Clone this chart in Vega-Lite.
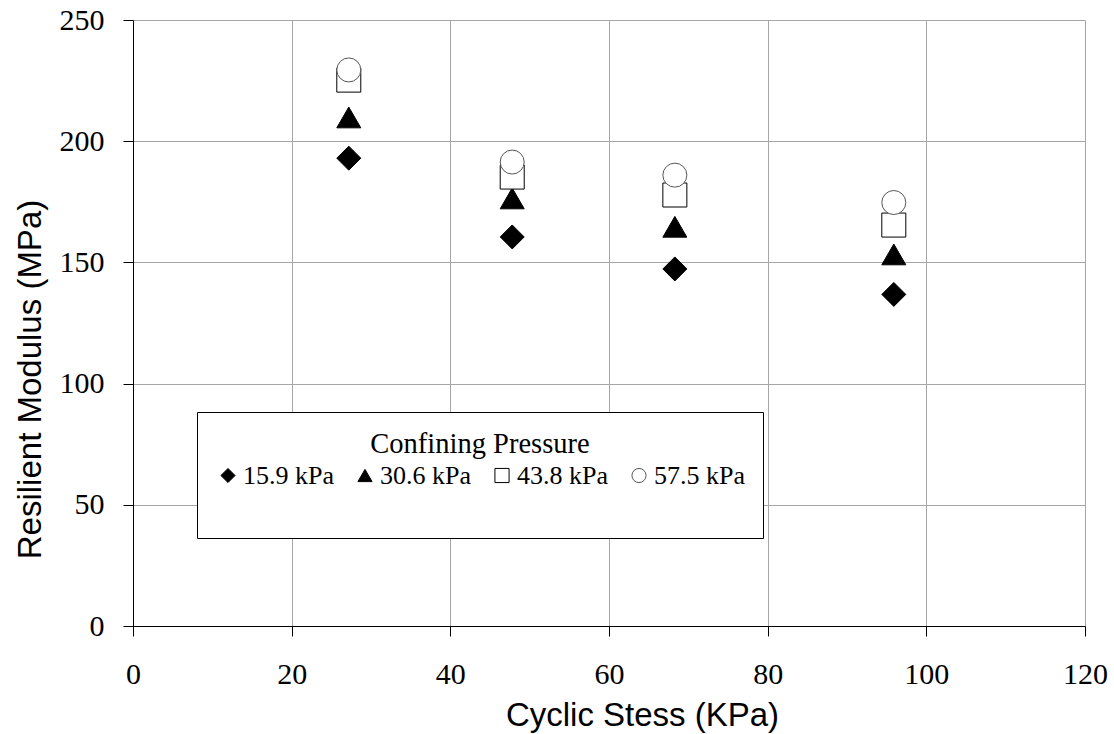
{
  "$schema": "https://vega.github.io/schema/vega-lite/v6.json",
  "width": 952,
  "height": 606,
  "autosize": {"type": "none"},
  "padding": {"left": 133, "top": 20, "right": 29, "bottom": 108},
  "background": "white",
  "config": {
    "view": {"stroke": null},
    "axis": {
      "labelFont": "Liberation Serif",
      "labelFontSize": 30,
      "labelColor": "black",
      "titleFont": "Liberation Sans",
      "titleFontSize": 33,
      "titleFontWeight": "normal",
      "titleColor": "black",
      "domainColor": "black",
      "domainWidth": 1,
      "tickColor": "black",
      "tickSize": 10,
      "tickWidth": 1,
      "gridColor": "#a6a6a6",
      "gridWidth": 1,
      "labelOverlap": false,
      "labelFlush": false
    }
  },
  "data": {
    "values": [
      {"stress": 27.2, "modulus": 193.0, "pressure": "15.9 kPa"},
      {"stress": 47.8, "modulus": 160.5, "pressure": "15.9 kPa"},
      {"stress": 68.3, "modulus": 147.3, "pressure": "15.9 kPa"},
      {"stress": 95.9, "modulus": 136.8, "pressure": "15.9 kPa"},
      {"stress": 27.2, "modulus": 209.8, "pressure": "30.6 kPa"},
      {"stress": 47.8, "modulus": 176.4, "pressure": "30.6 kPa"},
      {"stress": 68.3, "modulus": 164.7, "pressure": "30.6 kPa"},
      {"stress": 95.9, "modulus": 153.3, "pressure": "30.6 kPa"},
      {"stress": 27.2, "modulus": 225.2, "pressure": "43.8 kPa"},
      {"stress": 47.8, "modulus": 185.2, "pressure": "43.8 kPa"},
      {"stress": 68.3, "modulus": 177.8, "pressure": "43.8 kPa"},
      {"stress": 95.9, "modulus": 165.4, "pressure": "43.8 kPa"},
      {"stress": 27.2, "modulus": 229.4, "pressure": "57.5 kPa"},
      {"stress": 47.8, "modulus": 191.4, "pressure": "57.5 kPa"},
      {"stress": 68.3, "modulus": 186.0, "pressure": "57.5 kPa"},
      {"stress": 95.9, "modulus": 174.7, "pressure": "57.5 kPa"}
    ]
  },
  "mark": {"type": "point", "size": 576, "strokeWidth": 1, "opacity": 1},
  "encoding": {
    "x": {
      "field": "stress",
      "type": "quantitative",
      "scale": {"domain": [0, 120], "nice": false},
      "axis": {
        "title": "Cyclic Stess (KPa)",
        "values": [0, 20, 40, 60, 80, 100, 120],
        "labelPadding": 23,
        "titleX": 509,
        "titleY": 99,
        "titleAlign": "center",
        "titleBaseline": "alphabetic"
      }
    },
    "y": {
      "field": "modulus",
      "type": "quantitative",
      "scale": {"domain": [0, 250], "nice": false},
      "axis": {
        "title": "Resilient Modulus (MPa)",
        "values": [0, 50, 100, 150, 200, 250],
        "labelPadding": 19,
        "titleAngle": -90,
        "titleX": -93,
        "titleY": 359,
        "titleAlign": "center",
        "titleBaseline": "alphabetic"
      }
    },
    "shape": {
      "field": "pressure",
      "type": "nominal",
      "scale": {
        "domain": ["15.9 kPa", "30.6 kPa", "43.8 kPa", "57.5 kPa"],
        "range": ["diamond", "triangle-up", "square", "circle"]
      },
      "legend": {
        "title": "Confining Pressure",
        "orient": "none",
        "legendX": 64,
        "legendY": 392,
        "direction": "horizontal",
        "columns": 4,
        "padding": 18,
        "titlePadding": -27,
        "clipHeight": 88,
        "strokeColor": "black",
        "fillColor": "white",
        "titleFont": "Liberation Serif",
        "titleFontSize": 28.5,
        "titleFontWeight": "normal",
        "titleColor": "black",
        "titleAnchor": "middle",
        "titleLimit": 0,
        "labelFont": "Liberation Serif",
        "labelFontSize": 26,
        "labelColor": "black",
        "labelOffset": 2,
        "labelLimit": 0,
        "columnPadding": 18,
        "symbolSize": 200,
        "symbolStrokeWidth": 1
      }
    },
    "fill": {
      "field": "pressure",
      "type": "nominal",
      "scale": {
        "domain": ["15.9 kPa", "30.6 kPa", "43.8 kPa", "57.5 kPa"],
        "range": ["black", "black", "white", "white"]
      }
    },
    "stroke": {
      "field": "pressure",
      "type": "nominal",
      "scale": {
        "domain": ["15.9 kPa", "30.6 kPa", "43.8 kPa", "57.5 kPa"],
        "range": ["black", "black", "black", "#555555"]
      }
    }
  }
}
